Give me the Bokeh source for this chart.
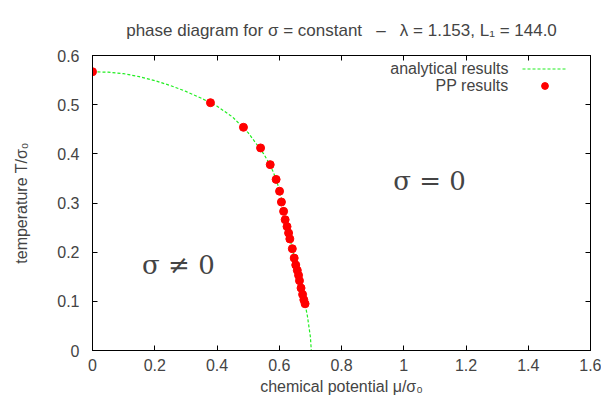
from bokeh.plotting import figure
from bokeh.models import (Legend, LegendItem, Label, LinearAxis, FixedTicker,
                          CustomJSTickFormatter)
from bokeh.embed import file_html
from bokeh.resources import INLINE

# ---- data ----
x_ticks = [0.0, 0.2, 0.4, 0.6, 0.8, 1.0, 1.2, 1.4, 1.6]
y_ticks = [0.0, 0.1, 0.2, 0.3, 0.4, 0.5, 0.6]

curve_mu = [0.0, 0.05, 0.1, 0.15, 0.2, 0.25, 0.3, 0.35, 0.4, 0.45, 0.5, 0.55,
            0.57, 0.58, 0.59, 0.60, 0.61, 0.62, 0.63, 0.64, 0.65, 0.66, 0.67,
            0.68, 0.69, 0.70, 0.703]
curve_T = [0.567, 0.566, 0.563, 0.557, 0.549, 0.539, 0.527, 0.513, 0.497, 0.475,
           0.443, 0.400, 0.378, 0.364, 0.348, 0.328, 0.300, 0.270, 0.240, 0.212,
           0.185, 0.158, 0.130, 0.103, 0.072, 0.028, 0.0]

pp_mu = [0.0, 0.379, 0.485, 0.540, 0.571, 0.590, 0.601, 0.607, 0.614, 0.619,
         0.625, 0.630, 0.634, 0.642, 0.648, 0.653, 0.658, 0.662, 0.665, 0.670,
         0.675, 0.679, 0.683]
pp_T = [0.567, 0.504, 0.454, 0.412, 0.378, 0.348, 0.324, 0.302, 0.283, 0.266,
        0.252, 0.239, 0.227, 0.207, 0.188, 0.174, 0.163, 0.153, 0.142, 0.127,
        0.114, 0.103, 0.095]

NB = "\u00a0"
title_text = ("phase diagram for \u03c3 = constant " + NB * 2 + "\u2013" + NB * 2 +
              " \u03bb = 1.153, L\u2081 = 144.0")
xlabel = "chemical potential \u03bc/\u03c3\u2080"
ylabel = "temperature T/\u03c3\u2080"
legend_labels = ["analytical results", "PP results"]
region_texts = ["\u03c3 \u2260 0", "\u03c3 = 0"]
region_mu = [0.276, 1.083]
region_T = [0.173, 0.344]

FONT = "Liberation Sans"
FS = "16px"
GREEN = "#22ee22"
RED = "#ff0000"

p = figure(width=601, height=398, x_range=(0, 1.6), y_range=(0, 0.6),
           output_backend="svg", toolbar_location=None,
           min_border_left=92, min_border_right=11, min_border_top=55,
           min_border_bottom=48, background_fill_color="white",
           border_fill_color="white")
p.grid.visible = False
p.outline_line_color = "black"
p.outline_line_width = 1

p.title.text = title_text
p.title.align = "center"
p.title.text_font = FONT
p.title.text_font_size = "17px"
p.title.text_font_style = "normal"
p.title.standoff = 31

fmt = CustomJSTickFormatter(code="return tick.toFixed(1).replace(/\\.0$/, '');")
blank = CustomJSTickFormatter(code="return '';")

def style_axis(ax, ticks, show_labels):
    ax.ticker = FixedTicker(ticks=ticks)
    ax.major_tick_in = 5
    ax.major_tick_out = 0
    ax.minor_tick_line_color = None
    ax.axis_line_color = "black"
    ax.major_tick_line_color = "black"
    ax.major_label_text_font = FONT
    ax.major_label_text_font_size = FS
    ax.axis_label_text_font = FONT
    ax.axis_label_text_font_size = FS
    ax.axis_label_text_font_style = "normal"
    if show_labels:
        ax.formatter = fmt
    else:
        ax.formatter = blank
        ax.major_label_standoff = 0

xax = p.xaxis[0]
yax = p.yaxis[0]
style_axis(xax, x_ticks, True)
style_axis(yax, y_ticks, True)
xax.axis_label = xlabel
yax.axis_label = ylabel
xax.major_label_standoff = 8
xax.axis_label_standoff = 4
yax.major_label_standoff = 13
yax.axis_label_standoff = 24

top_ax = LinearAxis()
style_axis(top_ax, x_ticks, False)
p.add_layout(top_ax, "above")
right_ax = LinearAxis()
style_axis(right_ax, y_ticks, False)
p.add_layout(right_ax, "right")

line_r = p.line(curve_mu, curve_T, line_color=GREEN, line_dash="3 2", line_width=1.2)
pts_r = p.scatter(pp_mu, pp_T, marker="circle", size=8, fill_color=RED,
                  line_color=RED)

legend = Legend(items=[LegendItem(label="", renderers=[line_r]),
                       LegendItem(label="", renderers=[pts_r])],
                location=(430, 256), orientation="vertical",
                glyph_width=45, glyph_height=17, label_width=0, label_height=17,
                label_standoff=0, padding=0, spacing=0, margin=0,
                border_line_color=None, background_fill_alpha=0)
p.add_layout(legend)

for txt, yy in zip(legend_labels, [282, 265]):
    p.add_layout(Label(x=416, y=yy, x_units="screen", y_units="screen", text=txt,
                       text_align="right", text_baseline="middle",
                       text_font=FONT, text_font_size=FS))

for txt, mx, ty in zip(region_texts, region_mu, region_T):
    p.add_layout(Label(x=mx, y=ty, text=txt, text_align="center",
                       text_baseline="middle", text_font="DejaVu Serif",
                       text_font_size="26px"))

open("out.html", "w").write(file_html(p, INLINE))
